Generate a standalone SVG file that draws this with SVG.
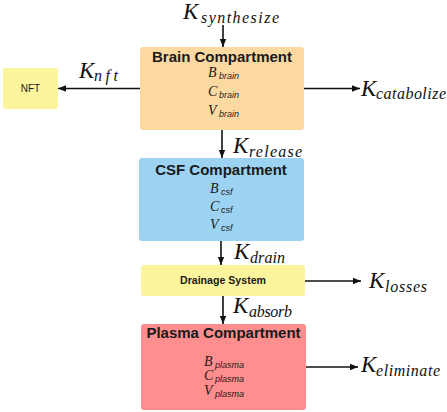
<svg xmlns="http://www.w3.org/2000/svg" width="447" height="412" viewBox="0 0 447 412">
<style>
.title{font-family:"Liberation Sans",Arial,sans-serif;font-weight:bold;font-size:15px;fill:#1a1a1a;text-anchor:middle}
.small{font-family:"Liberation Sans",Arial,sans-serif;font-size:10px;fill:#1a1a1a;text-anchor:middle}
.k{font-family:"Liberation Serif","Times New Roman",serif;font-style:italic;font-size:23px;fill:#111}
.ks{font-family:"Liberation Serif","Times New Roman",serif;font-style:italic;font-size:16px;fill:#111}
.v{font-family:"Liberation Serif","Times New Roman",serif;font-style:italic;font-size:14px;fill:#1a1a1a}
.vs{font-family:"Liberation Sans",Arial,sans-serif;font-style:italic;font-size:9px;fill:#1a1a1a}
.line{stroke:#111;stroke-width:1.6;fill:none;marker-end:url(#ah)}
</style>
<defs>
<marker id="ah" viewBox="0 0 10 10" refX="10" refY="5" markerWidth="5" markerHeight="5" markerUnits="strokeWidth" orient="auto">
<path d="M0,1 L10,5 L0,9 z" fill="#111"/>
</marker>
</defs>
<rect width="447" height="412" fill="#fff"/>
<g id="connectors">
<line class="line" x1="223" y1="25" x2="223" y2="47"/>
<line class="line" x1="140" y1="88.5" x2="58" y2="88.5"/>
<line class="line" x1="304" y1="88.5" x2="360" y2="88.5"/>
<line class="line" x1="222" y1="130" x2="222" y2="158"/>
<line class="line" x1="221" y1="241" x2="221" y2="265"/>
<line class="line" x1="305" y1="281" x2="361" y2="281"/>
<line class="line" x1="223" y1="296" x2="223" y2="324"/>
<line class="line" x1="306" y1="367" x2="358" y2="367"/>
</g>
<g id="labels">
<text class="k" x="183" y="19">K</text><text class="ks" x="201" y="23" textLength="78" lengthAdjust="spacing">synthesize</text>
<text class="k" x="79" y="78">K</text><text class="ks" x="94" y="81" textLength="24" lengthAdjust="spacing">nft</text>
<text class="k" x="361" y="96">K</text><text class="ks" x="376" y="99" textLength="70" lengthAdjust="spacing">catabolize</text>
<text class="k" x="233" y="153">K</text><text class="ks" x="249" y="157" textLength="53" lengthAdjust="spacing">release</text>
<text class="k" x="234" y="259">K</text><text class="ks" x="250" y="263" textLength="35" lengthAdjust="spacing">drain</text>
<text class="k" x="369" y="288">K</text><text class="ks" x="385" y="292" textLength="42" lengthAdjust="spacing">losses</text>
<text class="k" x="233" y="313">K</text><text class="ks" x="249" y="317" textLength="43" lengthAdjust="spacing">absorb</text>
<text class="k" x="361" y="372">K</text><text class="ks" x="376" y="376" textLength="64" lengthAdjust="spacing">eliminate</text>
</g>
<g id="nft">
<rect x="3" y="68" width="55" height="41" rx="2.5" fill="#fcf59e"/>
<text class="small" x="30.5" y="92">NFT</text>
</g>
<g id="brain">
<rect x="140" y="47" width="164" height="83" rx="3" fill="#fdd9a2"/>
<text class="title" x="222" y="62">Brain Compartment</text>
<text class="v" x="208" y="77">B</text><text class="vs" x="219" y="79">brain</text>
<text class="v" x="208" y="96">C</text><text class="vs" x="219" y="98">brain</text>
<text class="v" x="208" y="115">V</text><text class="vs" x="219" y="117">brain</text>
</g>
<g id="csf">
<rect x="139" y="158" width="165" height="83" rx="3" fill="#9cd2f2"/>
<text class="title" x="221" y="175">CSF Compartment</text>
<text class="v" x="210" y="193">B</text><text class="vs" x="221" y="195">csf</text>
<text class="v" x="210" y="211">C</text><text class="vs" x="221" y="213">csf</text>
<text class="v" x="210" y="229">V</text><text class="vs" x="221" y="231">csf</text>
</g>
<g id="drainage">
<rect x="141" y="265" width="164" height="31" rx="3" fill="#fcf59e"/>
<text class="title" style="font-size:10.6px" x="223" y="284">Drainage System</text>
</g>
<g id="plasma">
<rect x="141" y="324" width="165" height="86" rx="3" fill="#ff8e8e"/>
<text class="title" x="223.5" y="338">Plasma Compartment</text>
<text class="v" x="204" y="366">B</text><text class="vs" x="215" y="368">plasma</text>
<text class="v" x="204" y="380">C</text><text class="vs" x="215" y="382">plasma</text>
<text class="v" x="204" y="395">V</text><text class="vs" x="215" y="397">plasma</text>
</g>
</svg>
